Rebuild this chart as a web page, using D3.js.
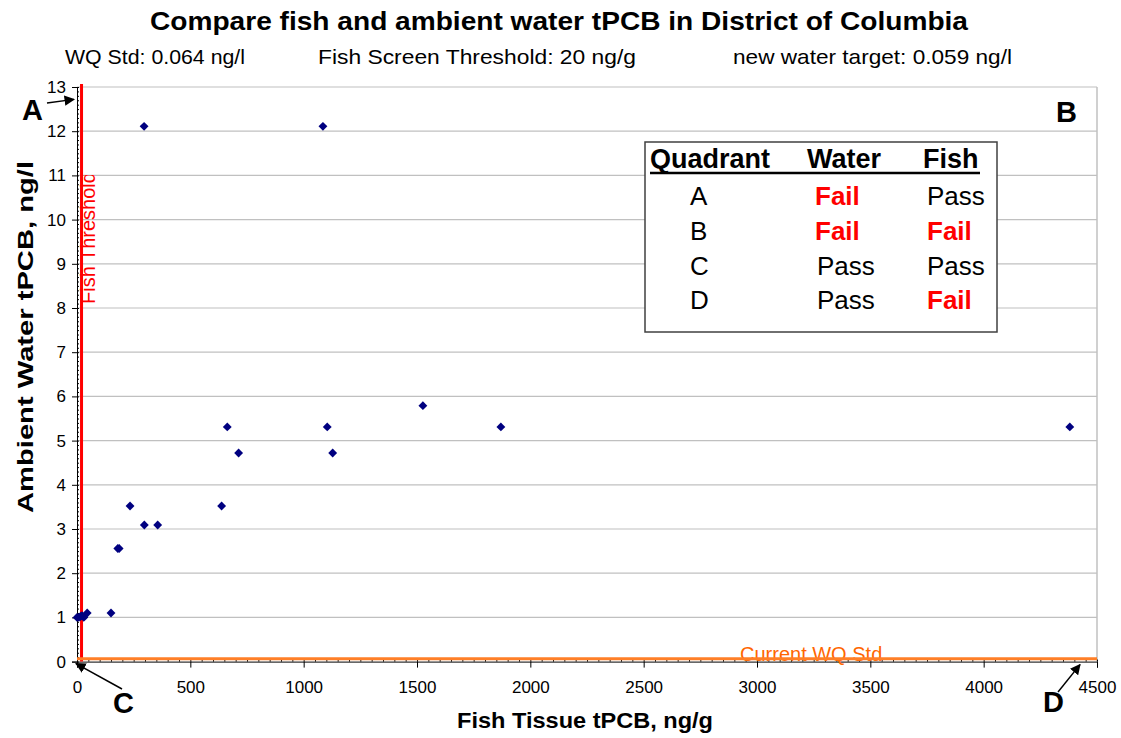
<!DOCTYPE html>
<html>
<head>
<meta charset="utf-8">
<script src="https://cdn.jsdelivr.net/npm/d3@7"></script>
<style>
  body { margin: 0; background: #fff; }
  text { font-family: "Liberation Sans", Arial, sans-serif; }
</style>
</head>
<body>
<script>
// data
let fishTissue = [0, 8, 15, 22, 30, 45, 150, 180, 186, 234, 297, 296, 356, 638, 663, 713, 1085, 1104, 1128, 1526, 1870, 4380]
let waterTPCB = [1.0, 1.0, 1.02, 1.04, 1.0, 1.1, 1.1, 2.56, 2.56, 3.52, 3.09, 12.11, 3.09, 3.52, 5.31, 4.72, 12.11, 5.31, 4.72, 5.79, 5.31, 5.31]
let wqStd = 0.064
let fishThreshold = 20
let xTicks = [0, 500, 1000, 1500, 2000, 2500, 3000, 3500, 4000, 4500]
let yTicks = [0, 1, 2, 3, 4, 5, 6, 7, 8, 9, 10, 11, 12, 13]
let quadrants = ["A", "B", "C", "D"]
let waterResult = ["Fail", "Fail", "Pass", "Pass"]
let fishResult = ["Pass", "Fail", "Pass", "Fail"]

let width = 1121
let height = 738

let svg = d3.select("body").append("svg")
    .attr("width", width)
    .attr("height", height)

let x = d3.scaleLinear().domain([0, 4500]).range([77, 1097])
let y = d3.scaleLinear().domain([0, 13]).range([661.6, 87])

//title and header line
svg.append("text")
    .attr("x", 150).attr("y", 30)
    .attr("textLength", 818).attr("lengthAdjust", "spacingAndGlyphs")
    .style("font-size", "25px").style("font-weight", "bold")
    .text("Compare fish and ambient water tPCB in District of Columbia")

let subs = [["WQ Std: 0.064 ng/l", 65, 180], ["Fish Screen Threshold: 20 ng/g", 318, 318], ["new water target: 0.059 ng/l", 733, 279]]
svg.selectAll(".sub").data(subs).enter().append("text")
    .attr("class", "sub")
    .attr("x", d => d[1]).attr("y", 64)
    .attr("textLength", d => d[2]).attr("lengthAdjust", "spacingAndGlyphs")
    .style("font-size", "21px")
    .text(d => d[0])

//gridlines
svg.selectAll(".grid").data(yTicks.slice(1)).enter().append("line")
    .attr("class", "grid")
    .attr("x1", x(0)).attr("x2", x(4500))
    .attr("y1", d => y(d)).attr("y2", d => y(d))
    .attr("stroke", "#c0c0c0").attr("stroke-width", 1.2)
svg.append("line")
    .attr("x1", x(4500)).attr("x2", x(4500))
    .attr("y1", y(13)).attr("y2", y(0))
    .attr("stroke", "#c0c0c0").attr("stroke-width", 1.5)

//axes
let yAxis = d3.axisLeft(y).tickValues(yTicks).tickSize(5).tickPadding(6)
let yMinor = d3.axisLeft(y).tickValues(d3.range(0, 13.01, 0.1)).tickSize(2).tickFormat("")
let xAxis = d3.axisBottom(x).tickValues(xTicks).tickSize(6).tickPadding(13).tickFormat(d3.format("d"))
let xMinor = d3.axisBottom(x).tickValues(d3.range(0, 4501, 50)).tickSize(2).tickFormat("")

let gy = svg.append("g").attr("transform", `translate(${x(0)},0)`).call(yAxis)
gy.selectAll("text").style("font-size", "17px").style("fill", "#000")
svg.append("g").attr("transform", `translate(${x(0) + 2},0)`).call(yMinor)
    .select(".domain").remove()

let gx = svg.append("g").attr("transform", `translate(0,${y(0)})`).call(xAxis)
gx.selectAll("text").style("font-size", "17px").style("fill", "#000")
svg.append("g").attr("transform", `translate(0,${y(0) - 2})`).call(xMinor)
    .select(".domain").remove()
svg.selectAll(".domain").attr("stroke", "#000")

//axis titles
svg.append("text")
    .attr("transform", `translate(33,337) rotate(-90)`)
    .attr("text-anchor", "middle")
    .attr("textLength", 352).attr("lengthAdjust", "spacingAndGlyphs")
    .style("font-size", "22px").style("font-weight", "bold")
    .text("Ambient Water tPCB, ng/l")
svg.append("text")
    .attr("x", 585).attr("y", 728)
    .attr("text-anchor", "middle")
    .attr("textLength", 256).attr("lengthAdjust", "spacingAndGlyphs")
    .style("font-size", "22px").style("font-weight", "bold")
    .text("Fish Tissue tPCB, ng/g")

//fish threshold line + label
svg.append("defs").append("clipPath").attr("id", "lblclip")
    .append("rect").attr("x", 70).attr("y", 175).attr("width", 40).attr("height", 200)
svg.append("g").attr("clip-path", "url(#lblclip)")
    .append("text")
    .attr("transform", `translate(${x(fishThreshold) + 13},304) rotate(-90)`)
    .style("font-size", "20px").style("fill", "#ff0000")
    .text("Fish Threshold")
svg.append("line")
    .attr("x1", x(fishThreshold)).attr("x2", x(fishThreshold))
    .attr("y1", y(0)).attr("y2", y(13) - 3)
    .attr("stroke", "#ff0000").attr("stroke-width", 3)

//WQ std line + label
svg.append("text")
    .attr("x", x(2925)).attr("y", y(wqStd) + 2)
    .style("font-size", "20px").style("fill", "#ff6600")
    .text("Current WQ Std")
svg.append("line")
    .attr("x1", x(0)).attr("x2", x(4500))
    .attr("y1", y(wqStd)).attr("y2", y(wqStd))
    .attr("stroke", "#ff7f27").attr("stroke-width", 3)

//points
svg.selectAll(".pt").data(fishTissue).enter().append("path")
    .attr("class", "pt")
    .attr("d", d3.symbol(d3.symbolDiamond2, 50))
    .attr("transform", (d, i) => `translate(${x(d)},${y(waterTPCB[i])})`)
    .attr("fill", "#000080")

//quadrant letters and arrows
svg.append("defs").append("marker").attr("id", "arr")
    .attr("viewBox", "0 0 10 10").attr("refX", 9).attr("refY", 5)
    .attr("markerWidth", 7).attr("markerHeight", 7).attr("orient", "auto")
    .append("path").attr("d", "M0,0L10,5L0,10z").attr("fill", "#000")

let letters = [["A", 22, 120], ["B", 1056, 122], ["C", 113, 713], ["D", 1043, 712]]
svg.selectAll(".quad").data(letters).enter().append("text")
    .attr("class", "quad")
    .attr("x", d => d[1]).attr("y", d => d[2])
    .style("font-size", "29px").style("font-weight", "bold")
    .text(d => d[0])

let arrows = [[47, 103, x(0) - 3, y(12.72)], [122, 689, x(0) - 1, y(0) + 2], [1058, 692, x(4500) - 17, y(0) + 3]]
svg.selectAll(".arrow").data(arrows).enter().append("line")
    .attr("x1", d => d[0]).attr("y1", d => d[1])
    .attr("x2", d => d[2]).attr("y2", d => d[3])
    .attr("stroke", "#000").attr("stroke-width", 1.5)
    .attr("marker-end", "url(#arr)")

//legend table
let tbl = svg.append("g")
tbl.append("rect")
    .attr("x", 645).attr("y", 142).attr("width", 352).attr("height", 190)
    .attr("fill", "#fff").attr("stroke", "#404040").attr("stroke-width", 1.5)
let heads = [["Quadrant", 650], ["Water", 807], ["Fish", 923]]
tbl.selectAll(".hd").data(heads).enter().append("text")
    .attr("x", d => d[1]).attr("y", 168)
    .style("font-size", "27px").style("font-weight", "bold")
    .text(d => d[0])
tbl.append("line")
    .attr("x1", 650).attr("x2", 980).attr("y1", 173).attr("y2", 173)
    .attr("stroke", "#000").attr("stroke-width", 2.5)
let rowY = [205, 240, 275, 309]
let cell = (txt, cx, cy) => tbl.append("text")
    .attr("x", cx).attr("y", cy)
    .style("font-size", "26px")
    .style("font-weight", txt == "Fail" ? "bold" : "normal")
    .style("fill", txt == "Fail" ? "#ff0000" : "#000")
    .text(txt)
quadrants.forEach((q, i) => {
    cell(q, 690, rowY[i])
    cell(waterResult[i], waterResult[i] == "Fail" ? 815 : 817, rowY[i])
    cell(fishResult[i], 927, rowY[i])
})
</script>
</body>
</html>
